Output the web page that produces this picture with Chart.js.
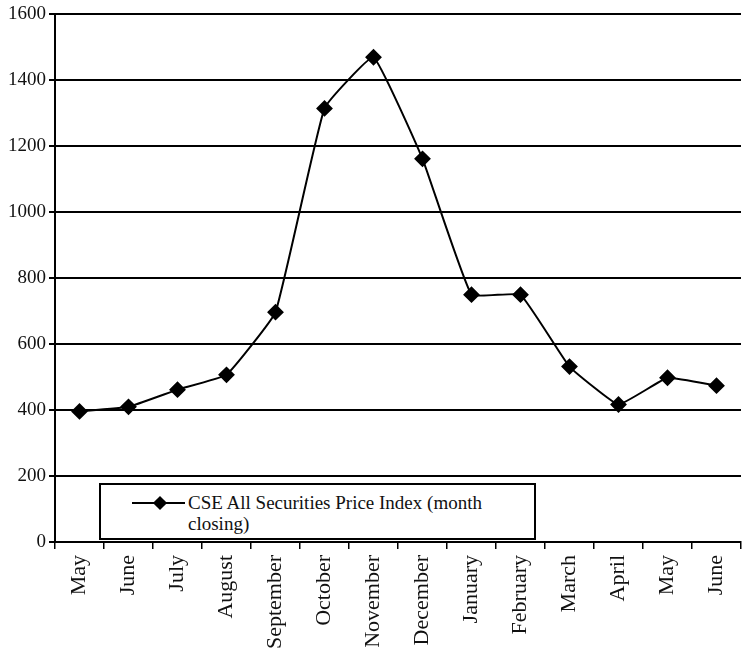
<!DOCTYPE html>
<html lang="en">
<head>
    <meta charset="UTF-8">
    <title>CSE All Securities Price Index</title>
    <script src="https://cdn.jsdelivr.net/npm/chart.js"></script>
    <style>
        body {
            margin: 0;
            padding: 0;
            background: #fff;
        }
        .wrap {
            position: relative;
            width: 750px;
            height: 669px;
        }
        .legend {
            position: absolute;
            box-sizing: border-box;
            left: 99px;
            top: 483px;
            width: 437px;
            height: 57px;
            border: 2px solid #000;
            background: #fff;
            font-family: 'Liberation Serif', 'DejaVu Serif', serif;
            font-size: 19px;
            line-height: 21px;
            color: #111;
        }
        .legend .sym {
            position: absolute;
            left: 31px;
            top: 17px;
            width: 53px;
            height: 2px;
            background: #000;
        }
        .legend .sym::after {
            content: '';
            position: absolute;
            left: 23px;
            top: -4px;
            width: 10px;
            height: 10px;
            background: #000;
            transform: rotate(45deg);
        }
        .legend .txt {
            position: absolute;
            left: 87px;
            top: 7px;
            width: 340px;
        }
    </style>
</head>
<body>
    <div class="wrap">
        <canvas id="chart" width="750" height="669"></canvas>
        <div class="legend">
            <div class="sym"></div>
            <div class="txt" id="legendText"></div>
        </div>
    </div>

    <script>
        const months = ['May', 'June', 'July', 'August', 'September', 'October', 'November',
                        'December', 'January', 'February', 'March', 'April', 'May', 'June'];
        const indexValues = [396, 410, 462, 507, 697, 1315, 1470, 1162, 750, 750, 532, 417, 498, 474];
        const seriesName = 'CSE All Securities Price Index (month closing)';
        const yTicks = [0, 200, 400, 600, 800, 1000, 1200, 1400, 1600];

        document.getElementById('legendText').textContent = seriesName;

        const serif = "'Liberation Serif', 'DejaVu Serif', serif";

        new Chart(document.getElementById('chart').getContext('2d'), {
            type: 'line',
            data: {
                labels: months,
                datasets: [{
                    label: seriesName,
                    data: indexValues,
                    borderColor: '#000',
                    backgroundColor: '#000',
                    borderWidth: 2,
                    pointStyle: 'rectRot',
                    pointRadius: 7,
                    pointHoverRadius: 7,
                    tension: 0.1,
                    fill: false
                }]
            },
            options: {
                responsive: false,
                animation: false,
                layout: { padding: { top: 13, right: 3, left: 0, bottom: 0 } },
                plugins: {
                    legend: { display: false },
                    tooltip: { enabled: false }
                },
                scales: {
                    x: {
                        offset: true,
                        grid: {
                            offset: true,
                            drawOnChartArea: false,
                            color: '#000',
                            lineWidth: 1.5,
                            tickLength: 7
                        },
                        border: { color: '#000', width: 2 },
                        ticks: {
                            color: '#111',
                            font: { family: serif, size: 22 },
                            maxRotation: 90,
                            minRotation: 90,
                            autoSkip: false,
                            padding: 6
                        },
                        afterFit: (scale) => { scale.height = 127; }
                    },
                    y: {
                        min: 0,
                        max: 1600,
                        afterBuildTicks: (scale) => { scale.ticks = yTicks.map(v => ({ value: v })); },
                        grid: {
                            color: '#000',
                            lineWidth: 2,
                            tickLength: 6
                        },
                        border: { color: '#000', width: 2 },
                        ticks: {
                            color: '#111',
                            font: { family: serif, size: 19 },
                            padding: 3,
                            callback: (v) => String(v)
                        },
                        afterFit: (scale) => { scale.width = 55; }
                    }
                }
            }
        });
    </script>
</body>
</html>
